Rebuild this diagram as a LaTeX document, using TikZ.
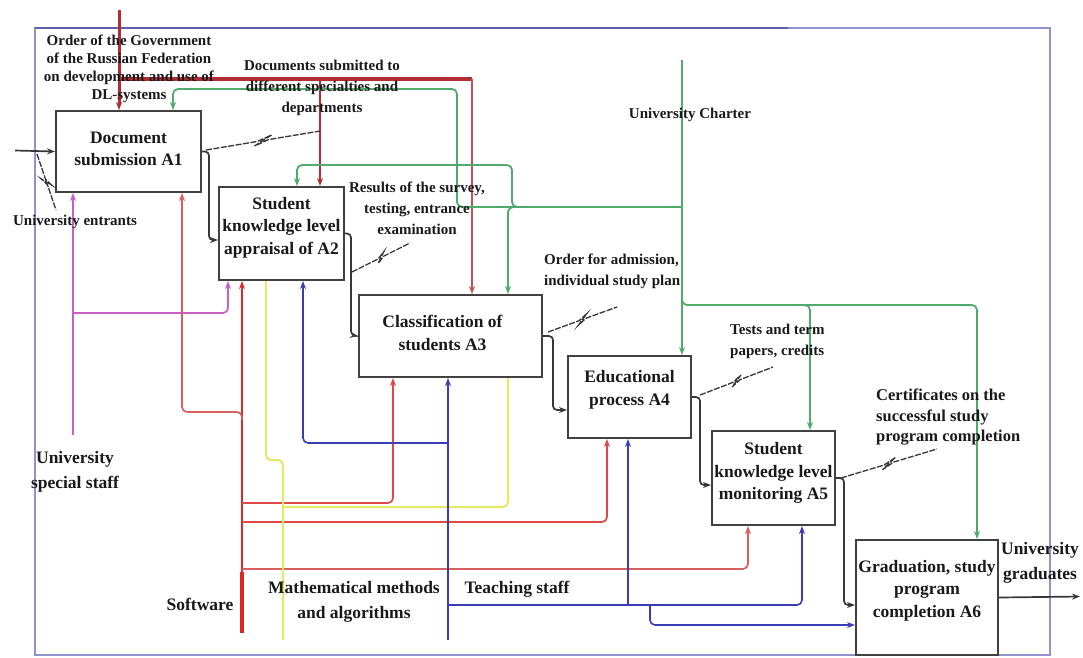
\documentclass[tikz,border=0pt]{standalone}
\usepackage{fontspec}
\setmainfont{Liberation Serif}
\usetikzlibrary{arrows.meta,calc}
\definecolor{frm}{RGB}{145,145,205}
\definecolor{frmd}{RGB}{95,95,165}
\definecolor{boxc}{RGB}{65,65,65}
\definecolor{arr}{RGB}{55,55,55}
\definecolor{txt}{RGB}{25,25,25}
\definecolor{ctl}{RGB}{178,45,50}
\definecolor{ctltwo}{RGB}{200,80,85}
\definecolor{grn}{RGB}{80,170,110}
\definecolor{mag}{RGB}{200,95,195}
\definecolor{sw}{RGB}{220,40,40}
\definecolor{swtwo}{RGB}{215,95,95}
\definecolor{ylw}{RGB}{232,232,100}
\definecolor{blu}{RGB}{60,60,185}
\newcommand\squig[2]{\draw[sq] (#1) -- ($(#1)!0.45!(#2)$) -- ($(#1)!0.58!(#2)!4pt!90:(#2)$) -- ($(#1)!0.42!(#2)!4pt!-90:(#2)$) -- ($(#1)!0.55!(#2)$) -- (#2);}
\begin{document}
\begin{tikzpicture}[x=1pt,y=-1pt,
  >={Stealth[length=8pt,width=6pt]},
  box/.style={draw=boxc,line width=2pt,fill=white,inner sep=0pt,anchor=north west},
  boxtxt/.style={font=\bfseries\fontsize{17.5}{22.5}\selectfont,align=center,text=txt,inner sep=0pt},
  lab/.style={font=\bfseries\fontsize{15}{21}\selectfont,align=center,text=txt,inner sep=0pt},
  biglab/.style={font=\bfseries\fontsize{17.5}{25}\selectfont,align=center,text=txt,inner sep=0pt},
  flow/.style={draw=arr,line width=1.7pt,rounded corners=4pt},
  sq/.style={draw=arr,line width=1.3pt,dash pattern=on 6pt off 1.5pt},
  ctlline/.style={draw=ctl,line width=2.2pt,rounded corners=3pt},
  grnline/.style={draw=grn,line width=1.8pt,rounded corners=5pt},
  magline/.style={draw=mag,line width=1.7pt,rounded corners=5pt},
  swline/.style={draw=swtwo,line width=1.7pt,rounded corners=5pt},
  yline/.style={draw=ylw,line width=2pt,rounded corners=5pt},
  bline/.style={draw=blu,line width=1.6pt,rounded corners=5pt}]
\useasboundingbox (0,0) rectangle (1083,657);
% frame
\draw[frm,line width=1.8pt] (35,28) rectangle (1050,655);
\draw[frmd,line width=2.5pt] (35,28) -- (788,28);
% boxes
\node[box,minimum width=145pt,minimum height=81pt] (A1) at (55,110) {};
\node[box,minimum width=125pt,minimum height=93pt] (A2) at (218,186) {};
\node[box,minimum width=183pt,minimum height=82pt] (A3) at (358,294) {};
\node[box,minimum width=123pt,minimum height=82pt] (A4) at (567,355) {};
\node[box,minimum width=123pt,minimum height=94pt] (A5) at (711,430) {};
\node[box,minimum width=142pt,minimum height=115pt] (A6) at (855,539) {};
\node[boxtxt] (A1t) at ([yshift=2.5pt]A1.center) {Document\\submission A1};
\node[boxtxt] (A2t) at ([yshift=6pt]A2.center) {Student\\knowledge level\\appraisal of A2};
\node[boxtxt] (A3t) at ([xshift=-8pt,yshift=3pt]A3.center) {Classification of\\students A3};
\node[boxtxt] (A4t) at ([yshift=7pt]A4.center) {Educational\\process A4};
\node[boxtxt] (A5t) at ([yshift=5pt]A5.center) {Student\\knowledge level\\monitoring A5};
\node[boxtxt] (A6t) at ([yshift=7pt]A6.center) {Graduation, study\\program\\completion A6};
% coordinates
\coordinate (entIn) at (15,150.5);
\coordinate (gradOut) at (1080,596.5);
\coordinate (govTop) at (119,10);
\coordinate (charTop) at (682,60);
\coordinate (ssBot) at (73,435);
\coordinate (swBot) at (242,633);
\coordinate (mathBot) at (283,640);
\coordinate (tsBot) at (448,640);
% outputs / inputs
\draw[flow,->] (entIn) -- (A1.west);
\draw[flow,->] (A1.east) -| (209,240) -- (A2.west |- 0,240);
\draw[flow,->] (A2.east) -| (351,335) -- (A3.west);
\draw[flow,->] (A3.east) -| (553,410) -- (A4.west |- 0,410);
\draw[flow,->] (A4.east) -| (700,485) -- (A5.west |- 0,485);
\draw[flow,->] (A5.east) -| (844,605) -- (A6.west |- 0,605);
\draw[flow,->] (A6.east) -- (gradOut);
% government control
\draw[ctlline,line width=3pt,->] (govTop) -- (govTop |- A1.north);
\draw[ctlline,line width=3.5pt] (119,79) -- (472,79);
\draw[ctlline,draw=ctltwo,line width=2pt,->] (472,79) -- (472,0 |- A3.north);
\draw[ctlline,line width=2pt,->] (320,79) -- (320,0 |- A2.north);
% university charter (green)
\draw[grnline,->] (charTop) -- (charTop |- A4.north);
\draw[grnline,->] (682,207) -- (457,207) -- (457,89) -- (173,89) -- (173,0 |- A1.north);
\draw[grnline,->] (560,207) -- (512,207) -- (512,165) -- (297,165) -- (297,0 |- A2.north);
\draw[grnline,->] (540,207) -- (508,207) -- (508,0 |- A3.north);
\draw[grnline,->] (682,280) -- (682,305) -- (977,305) -- (977,0 |- A6.north);
\draw[grnline,->] (790,305) -- (810,305) -- (810,0 |- A5.north);
% special staff (magenta)
\draw[magline,->] (ssBot) -- (ssBot |- A1.south);
\draw[magline,->] (73,313) -- (228,313) -- (228,0 |- A2.south);
% software (red)
\draw[draw=sw,line width=2.4pt,->] (swBot) -- (swBot |- A2.south);
\draw[draw=sw,line width=4pt] (swBot) -- (242,572);
\draw[swline,->] (242,420) -- (242,412) -- (182,412) -- (182,0 |- A1.south);
\draw[swline,draw=sw!85!white,->] (242,503) -- (393,503) -- (393,0 |- A3.south);
\draw[swline,draw=sw!85!white,->] (242,522) -- (607,522) -- (607,0 |- A4.south);
\draw[swline,->] (242,569) -- (748,569) -- (748,0 |- A5.south);
% mathematical methods (yellow)
\draw[yline] (mathBot) -- (283,460) -- (266,460) -- (266,0 |- A2.south);
\draw[yline] (283,507) -- (508,507) -- (508,0 |- A3.south);
% teaching staff (blue)
\draw[bline,->] (tsBot) -- (tsBot |- A3.south);
\draw[bline,->] (448,443) -- (303,443) -- (303,0 |- A2.south);
\draw[bline,->] (448,605) -- (802,605) -- (802,0 |- A5.south);
\draw[bline,->] (628,605) -- (628,0 |- A4.south);
\draw[bline,->] (650,605) -- (650,625) -- (A6.west |- 0,625);
% squiggles
\coordinate (q1s) at (206,150); \coordinate (q1e) at (320,131);
\coordinate (q2s) at (37,154);  \coordinate (q2e) at (56,210);
\coordinate (q3s) at (352,272); \coordinate (q3e) at (410,243);
\coordinate (q4s) at (548,332); \coordinate (q4e) at (617,307);
\coordinate (q5s) at (700,395); \coordinate (q5e) at (773,367);
\coordinate (q6s) at (841,478); \coordinate (q6e) at (937,449);
\squig{q1s}{q1e}
\squig{q2s}{q2e}
\squig{q3s}{q3e}
\squig{q4s}{q4e}
\squig{q5s}{q5e}
\squig{q6s}{q6e}
% labels
\node[lab,font=\bfseries\fontsize{15}{18}\selectfont] (gov) at (129,69) {Order of the Government\\of the Russian Federation\\on development and use of\\DL-systems};
\node[lab] (docs) at (322,88) {Documents submitted to\\different specialties and\\departments};
\node[lab] (entr) at (75,222) {University entrants};
\node[lab] (res) at (417,208) {Results of the survey,\\testing, entrance\\examination};
\node[lab] (chart) at (690,115) {University Charter};
\node[lab,align=left,anchor=west] (ordr) at (544,271.5) {Order for admission,\\individual study plan};
\node[lab,align=left,anchor=west] (tests) at (730,341) {Tests and term\\papers, credits};
\node[lab,align=left,anchor=west,font=\bfseries\fontsize{16.5}{20}\selectfont] (cert) at (876,417) {Certificates on the\\successful study\\program completion};
\node[biglab] (grad) at (1040,563) {University\\graduates};
\node[biglab] (spec) at (75,472) {University\\special staff};
\node[biglab] (soft) at (200,604) {Software};
\node[biglab] (math) at (354,601.5) {Mathematical methods\\and algorithms};
\node[biglab] (teach) at (517,589) {Teaching staff};
\end{tikzpicture}
\end{document}
